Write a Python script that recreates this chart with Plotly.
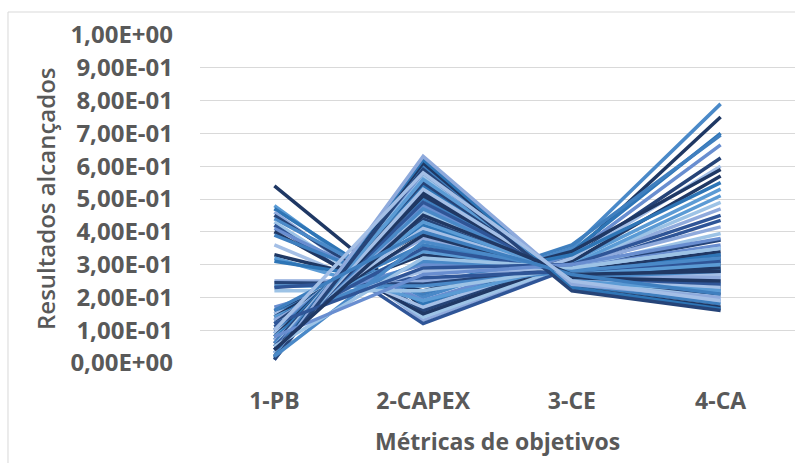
import plotly.graph_objects as go

# Objective metrics (parallel-coordinates style line chart)
categories = ["1-PB", "2-CAPEX", "3-CE", "4-CA"]

# One entry per solution: normalised value of each objective
pb = [0.54, 0.48, 0.47, 0.46, 0.45, 0.44, 0.43, 0.42, 0.41, 0.40,
      0.39, 0.36, 0.33, 0.32, 0.31, 0.25, 0.245, 0.235, 0.22, 0.23,
      0.17, 0.16, 0.15, 0.15, 0.14, 0.14, 0.13, 0.13, 0.12, 0.12,
      0.11, 0.11, 0.10, 0.10, 0.09, 0.09, 0.08, 0.08, 0.07, 0.07,
      0.06, 0.06, 0.05, 0.05, 0.04, 0.04, 0.03, 0.03, 0.02, 0.02,
      0.015, 0.01, 0.01, 0.02, 0.05, 0.12, 0.08, 0.04, 0.16, 0.10]
capex = [0.17, 0.15, 0.18, 0.13, 0.16, 0.20, 0.14, 0.12, 0.19, 0.15,
         0.21, 0.17, 0.22, 0.19, 0.24, 0.25, 0.24, 0.235, 0.22, 0.26,
         0.30, 0.33, 0.36, 0.28, 0.40, 0.34, 0.42, 0.38, 0.44, 0.31,
         0.46, 0.35, 0.48, 0.39, 0.50, 0.41, 0.52, 0.43, 0.54, 0.45,
         0.55, 0.47, 0.57, 0.49, 0.58, 0.51, 0.60, 0.53, 0.61, 0.56,
         0.62, 0.63, 0.59, 0.37, 0.32, 0.29, 0.27, 0.45, 0.40, 0.58]
ce = [0.33, 0.31, 0.34, 0.30, 0.32, 0.35, 0.30, 0.29, 0.33, 0.31,
      0.36, 0.32, 0.34, 0.30, 0.33, 0.30, 0.29, 0.28, 0.29, 0.28,
      0.29, 0.28, 0.28, 0.29, 0.27, 0.28, 0.27, 0.28, 0.27, 0.29,
      0.26, 0.28, 0.26, 0.27, 0.26, 0.27, 0.26, 0.27, 0.25, 0.27,
      0.25, 0.26, 0.25, 0.26, 0.24, 0.26, 0.24, 0.25, 0.23, 0.25,
      0.23, 0.24, 0.22, 0.28, 0.29, 0.30, 0.30, 0.27, 0.27, 0.25]
ca = [0.75, 0.53, 0.70, 0.47, 0.625, 0.79, 0.49, 0.435, 0.665, 0.57,
      0.695, 0.60, 0.59, 0.51, 0.55, 0.415, 0.375, 0.35, 0.395, 0.33,
      0.36, 0.34, 0.31, 0.35, 0.30, 0.29, 0.33, 0.27, 0.32, 0.28,
      0.26, 0.31, 0.25, 0.29, 0.24, 0.27, 0.23, 0.30, 0.22, 0.26,
      0.21, 0.28, 0.20, 0.24, 0.19, 0.25, 0.18, 0.23, 0.17, 0.22,
      0.165, 0.20, 0.16, 0.32, 0.35, 0.45, 0.38, 0.28, 0.21, 0.19]

y_ticks = [0.0, 0.1, 0.2, 0.3, 0.4, 0.5, 0.6, 0.7, 0.8, 0.9, 1.0]
y_tick_text = ["0,00E+00", "1,00E-01", "2,00E-01", "3,00E-01", "4,00E-01",
               "5,00E-01", "6,00E-01", "7,00E-01", "8,00E-01", "9,00E-01",
               "1,00E+00"]

palette = ["#1F3864", "#5B9BD5", "#2E75B6", "#8FAADC", "#264478", "#4A89C8",
           "#9DC3E6", "#2F5597", "#698ED0", "#203864", "#3F7FBF", "#A4BFE6"]

text_color = "#595959"

fig = go.Figure()
for i in range(len(pb)):
    fig.add_trace(go.Scatter(
        x=categories,
        y=[pb[i], capex[i], ce[i], ca[i]],
        mode="lines",
        line=dict(color=palette[i % len(palette)], width=3.5),
        showlegend=False,
        hoverinfo="skip",
    ))

fig.update_layout(
    width=795, height=463,
    margin=dict(l=200, r=0, t=35, b=100),
    paper_bgcolor="white", plot_bgcolor="white",
    font=dict(family="Open Sans", color=text_color),
    xaxis=dict(
        type="category", categoryorder="array", categoryarray=categories,
        range=[-0.5, 3.5],
        showgrid=False, showline=False, zeroline=False, ticks="",
        tickfont=dict(family="Open Sans", size=23, color=text_color, weight="bold"),
        ticklabelstandoff=22,
    ),
    yaxis=dict(
        range=[0, 1], tickvals=y_ticks, ticktext=y_tick_text,
        showgrid=True, gridcolor="#D9D9D9", gridwidth=1,
        zeroline=False, showline=False, ticks="",
        tickfont=dict(family="Open Sans", size=24, color=text_color, weight="bold"),
        ticklabelstandoff=26,
    ),
    shapes=[dict(type="rect", xref="paper", yref="paper",
                 x0=-0.3227, x1=1.05, y0=-0.5, y1=1.0701,
                 line=dict(color="#D9D9D9", width=1), fillcolor="rgba(0,0,0,0)")],
    annotations=[
        dict(text="Resultados alcançados", xref="paper", yref="paper",
             x=-0.2605, y=0.5, xanchor="center", yanchor="middle",
             textangle=-90, showarrow=False,
             font=dict(family="Open Sans", size=24, color=text_color, weight=600)),
        dict(text="Métricas de objetivos", xref="paper", yref="paper",
             x=0.5, y=-0.238, xanchor="center", yanchor="middle",
             showarrow=False,
             font=dict(family="Open Sans", size=23, color=text_color, weight="bold")),
    ],
)

fig.write_html("out.html")
